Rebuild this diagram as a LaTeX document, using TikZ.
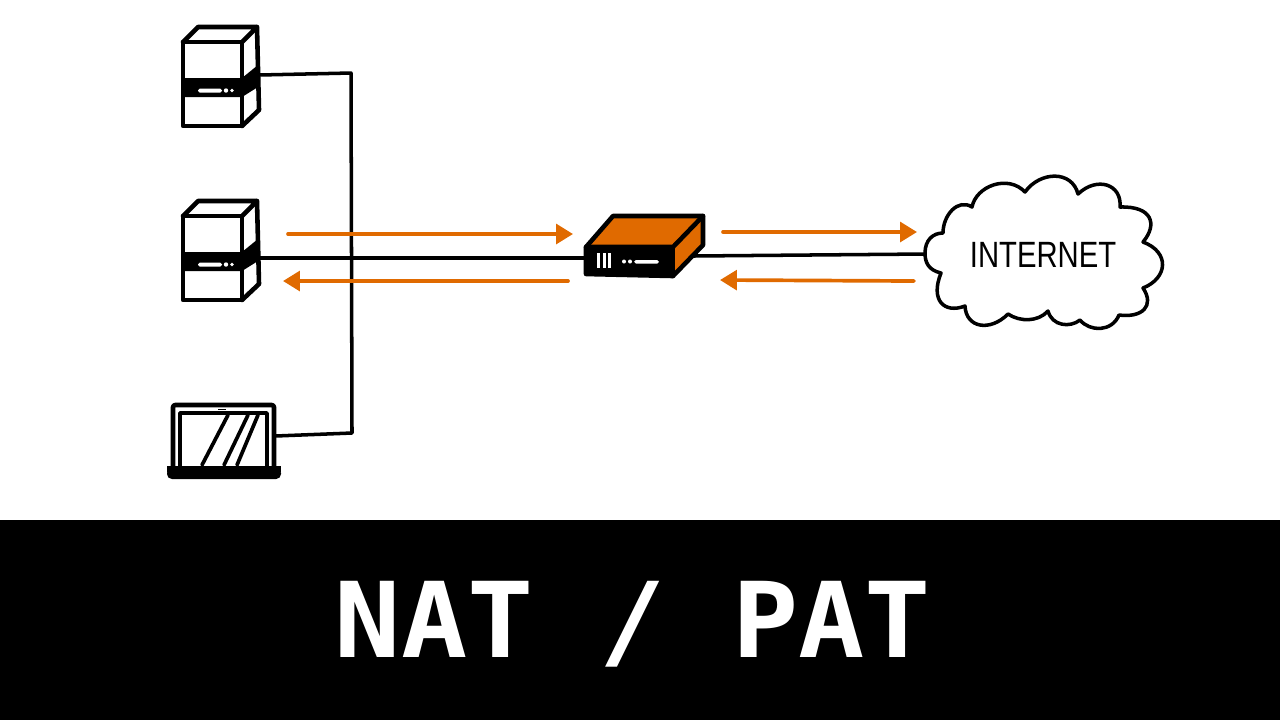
\documentclass[tikz,border=0pt]{standalone}
\usepackage{fontspec}
\setmainfont{Liberation Sans}
\newfontfamily\titlefont{DejaVu Sans Mono}
\usetikzlibrary{arrows.meta, positioning}

\definecolor{natorange}{HTML}{E06A00}

\begin{document}
\begin{tikzpicture}[x=0.01cm, y=-0.01cm, line join=round, line cap=round,
    box/.style={line width=1.3pt, black},
    link/.style={line width=1pt, black, line cap=butt},
    flow/.style={line width=1.05pt, natorange, -{Triangle[length=4.8pt, width=5.6pt]}}]
    \useasboundingbox (0,0) rectangle (1280,720);

    % Bottom band with the title
    \fill[black] (0,520) rectangle (1280,720);
    \node[white, yscale=0.95, font=\titlefont\bfseries\fontsize{31.3}{36}\selectfont] (title) at (633,624) {NAT / PAT};

    % Two servers, same drawing moved down
    \foreach \yy/\nm in {0/serverA, 174/serverB} {
        \begin{scope}[yshift=-\yy*0.01cm]
            \fill[black] (183,78) -- (242,78) -- (258,65) -- (258,87) -- (242,97) -- (183,97) -- cycle;
            \draw[box] (183,42) rectangle (242,126);
            \draw[box] (183,42) -- (198,27) -- (257,27) -- (242,42);
            \draw[box] (257,27) -- (259,110) -- (242,126);
            \fill[white, rounded corners=0.5pt] (198,88.5) rectangle (222,92.5);
            \fill[white] (226,90.5) circle (2.2);
            \fill[white] (232,90.5) circle (1.8);
            \coordinate (\nm) at (259,75);
        \end{scope}
    }

    % Laptop
    \draw[box, rounded corners=0.6pt] (173,466) -- (173,405) -- (274,405) -- (274,466);
    \draw[box, line width=1.05pt] (180,466) -- (180,413) -- (267,413) -- (267,466);
    \draw[box, line width=1.05pt] (228,415) -- (202,465);
    \draw[box, line width=1.05pt] (248,415) -- (224,465);
    \draw[box, line width=1.05pt] (258,415) -- (237,465);
    \fill[black, rounded corners=1.4pt] (167,468) -- (281,468) -- (281,479) -- (167,479) -- cycle;
    \fill[black] (167,466) rectangle (281,472);
    \fill[black] (218,408.5) rectangle (226,410);
    \coordinate (laptop) at (275,436);

    % Router
    \fill[natorange] (586,247) -- (613,216) -- (703,216) -- (703,245) -- (673,276) -- (673,247) -- cycle;
    \fill[black, rounded corners=0.5pt] (586,247) -- (673,247) -- (673,276) -- (586,274) -- cycle;
    \draw[box] (586,247) -- (613,216) -- (703,216) -- (703,245) -- (673,276) -- (586,274) -- cycle;
    \draw[box] (586,247) -- (673,247) -- (703,216);
    \draw[box] (673,247) -- (673,276);
    \foreach \xx in {597,603,608} {
        \fill[white] (\xx,253) rectangle ++(3,15);
    }
    \fill[white] (624,261.5) circle (2);
    \fill[white] (630,261.5) circle (2);
    \fill[white, rounded corners=0.5pt] (634,260) rectangle (659,263.5);
    \coordinate (routerL) at (586,258);
    \coordinate (routerR) at (692,256);

    % Cloud outline
    \coordinate (cloud) at (925,254);
    \draw[link, line cap=round, line join=round] (925,253)
        .. controls (925,240) and (933,233) .. (943,233)
        .. controls (943,215) and (958,198) .. (972,207)
        .. controls (976,186) and (1008,174) .. (1025,192)
        .. controls (1040,171) and (1072,170) .. (1078,194)
        .. controls (1097,176) and (1122,184) .. (1120,207)
        .. controls (1152,206) and (1158,224) .. (1143,242)
        .. controls (1170,252) and (1168,278) .. (1143,288)
        .. controls (1155,306) and (1142,318) .. (1119,315)
        .. controls (1112,332) and (1090,332) .. (1080,320)
        .. controls (1070,328) and (1052,326) .. (1048,311)
        .. controls (1038,322) and (1020,322) .. (1008,314)
        .. controls (990,332) and (966,328) .. (965,306)
        .. controls (944,314) and (930,300) .. (941,273)
        .. controls (928,270) and (925,262) .. (925,253);
    \node[font=\fontsize{10.4}{12}\selectfont, xscale=0.8] (inet) at (1043,255) {INTERNET};

    % Black lines
    \coordinate (busA) at (351,73);
    \coordinate (busB) at (352,433);
    \draw[link] (serverA) -- (busA) -- (busB) -- (laptop);
    \coordinate (serverBport) at (259,258);
    \draw[link] (serverBport) -- (routerL);
    \draw[link] (routerR) -- (cloud);

    % Orange arrows
    \coordinate (outA) at (288,234);
    \coordinate (outB) at (573,234);
    \coordinate (backA) at (568,281);
    \coordinate (backB) at (283,281);
    \coordinate (outC) at (723,232);
    \coordinate (outD) at (917,232);
    \coordinate (backC) at (914,281);
    \coordinate (backD) at (720,280);
    \draw[flow] (outA) -- (outB);
    \draw[flow] (backA) -- (backB);
    \draw[flow] (outC) -- (outD);
    \draw[flow] (backC) -- (backD);
\end{tikzpicture}
\end{document}
